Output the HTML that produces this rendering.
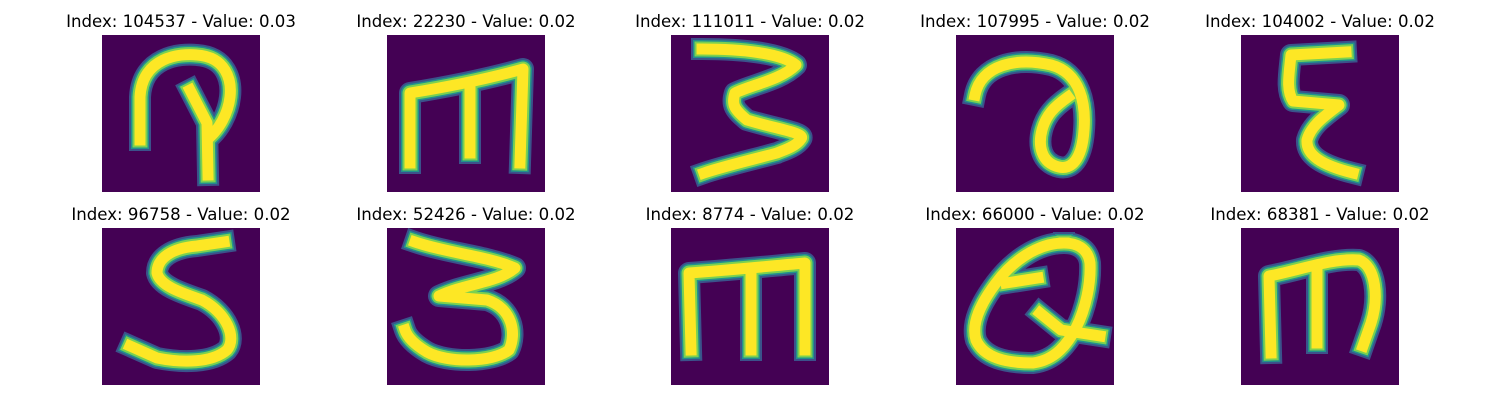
<!DOCTYPE html>
<html><head><meta charset="utf-8"><style>
body{margin:0;background:#fff;width:1500px;height:400px;overflow:hidden}
svg{display:block}
text{font-family:"DejaVu Sans","Liberation Sans",sans-serif;font-size:16.6px;fill:#000}
</style></head><body>
<svg id="fig" width="1500" height="400"></svg>
<script>
const indices=[104537,22230,111011,107995,104002,96758,52426,8774,66000,68381];
const values=[0.03,0.02,0.02,0.02,0.02,0.02,0.02,0.02,0.02,0.02];
const glyphs=[
"M38,105 L38,62 C40,22 78,18 95,20 C124,22 130,45 128,62 C126,80 116,94 110,100 M88,55 L105,88 L106,140",
"M23,128 L23,58 C60,52 100,44 136,34 L133,128 M83,118 L83,52",
"M31,14 C70,14 110,18 125,30 C110,45 80,50 64,58 C60,70 64,75 76,85 C110,95 135,98 130,104 C125,112 110,116 106,118 C80,125 50,132 33,138",
"M19,60 C25,30 60,22 95,30 C125,38 130,70 128,95 C126,125 115,135 103,132 C85,128 82,110 86,95 C90,80 98,72 112,62",
"M105,17 L50,20 C48,40 45,55 52,66 L98,70 C85,80 70,90 66,105 C65,120 80,130 112,138",
"M122,14 L95,18 C70,20 55,30 55,45 C58,58 80,65 100,72 C125,85 135,110 125,122 C110,135 80,135 55,130 L28,118",
"M28,14 C60,25 100,28 128,40 C110,55 80,55 52,68 L100,72 C125,80 130,105 122,122 C105,135 60,135 40,124 C25,115 20,108 18,102",
"M20,122 L18,45 C60,42 100,38 134,35 L134,122 M80,122 L80,42",
"M82,50 L50,55 M108,15 C80,15 55,35 40,55 C25,75 15,95 20,112 C28,130 50,135 77,135 C100,132 112,115 120,100 C130,80 135,55 134,35 C132,20 120,15 108,15 M84,85 L105,102 L144,108",
"M30,125 L28,48 C60,42 90,30 118,32 C135,38 138,70 130,95 L122,118 M76,115 L76,45"
];
const xs=[102,387,671,956,1241], ys=[35,228];
const NS="http://www.w3.org/2000/svg";
const fig=document.getElementById('fig');
for(let i=0;i<10;i++){
  const x=xs[i%5], y=ys[Math.floor(i/5)];
  const t=document.createElementNS(NS,'text');
  
  
  t.setAttribute('x',x+79);t.setAttribute('y',y-8);t.setAttribute('text-anchor','middle');
  t.textContent='Index: '+indices[i]+' - Value: '+values[i].toFixed(2);
  fig.appendChild(t);
  const g=document.createElementNS(NS,'g');
  
  
  g.setAttribute('transform','translate('+x+','+y+')');
  const r=document.createElementNS(NS,'rect');
  r.setAttribute('width',158);r.setAttribute('height',157);r.setAttribute('fill','#440154');
  g.appendChild(r);
  [['#3b528b',22],['#21918c',18],['#7ad151',15],['#fde725',11]].forEach(([c,w])=>{
    const p=document.createElementNS(NS,'path');
    p.setAttribute('d',glyphs[i]);p.setAttribute('fill','none');p.setAttribute('stroke',c);
    p.setAttribute('stroke-width',w);p.setAttribute('stroke-linecap','square');p.setAttribute('stroke-linejoin','round');
    g.appendChild(p);
  });
  fig.appendChild(g);
}
</script>
</body></html>
